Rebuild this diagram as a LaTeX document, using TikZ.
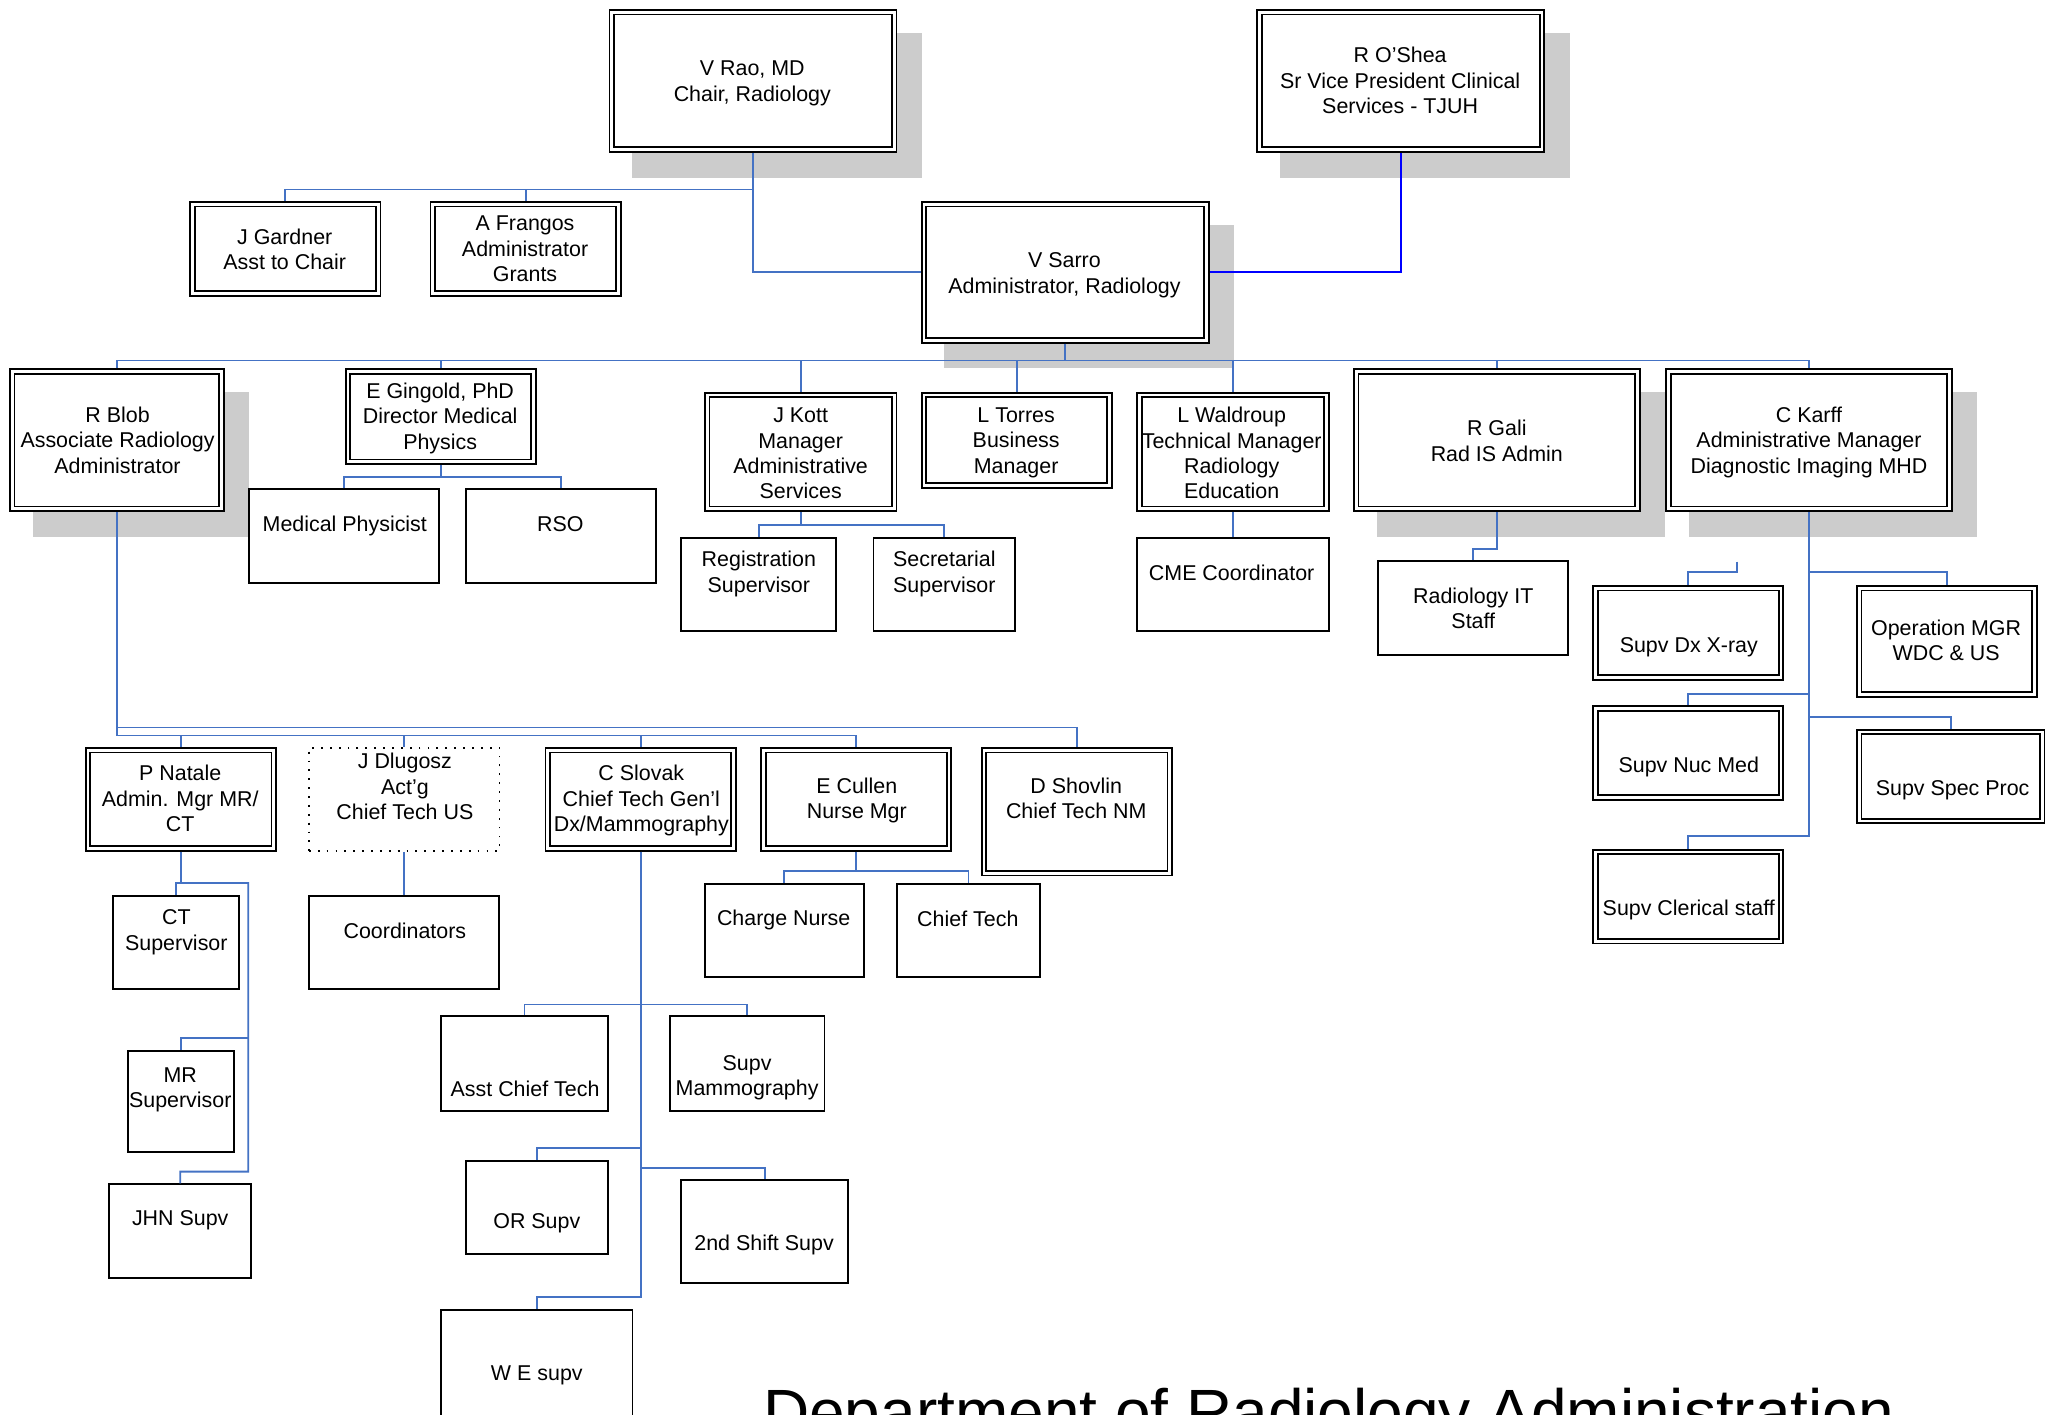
\documentclass[tikz,border=0pt]{standalone}
\usepackage{fontspec}
\setmainfont{Liberation Sans}
\usetikzlibrary{calc}
\definecolor{connblue}{HTML}{4472C4}
\definecolor{oblue}{HTML}{0000FF}
\definecolor{shadowgray}{HTML}{CCCCCC}
\newcommand{\ls}{\rule[-4.5pt]{0pt}{19.5pt}}
\newcommand{\mkdbl}[5]{\node[dblbox, minimum width={#4-#2-4.8}, minimum height={#5-#3-4.8}] (#1) at ({(#2+#4)/2},{(#3+#5)/2}) {};}
\newcommand{\mksgl}[5]{\node[sglbox, minimum width={#4-#2-1.5}, minimum height={#5-#3-1.5}] (#1) at ({(#2+#4)/2},{(#3+#5)/2}) {};}
\newcommand{\mkshd}[4]{\fill[shadowgray] ({#1+18},{#2+18}) rectangle ({#3+19},{#4+19});}
\begin{document}
\begin{tikzpicture}[x=1pt,y=-1pt,
  dblbox/.style={draw=black, fill=white, line width=1.4pt, double=white, double distance=2.1pt, outer sep=2.45pt, inner sep=0pt},
  sglbox/.style={draw=black, fill=white, line width=1.5pt, inner sep=0pt},
  dotbox/.style={draw=black, fill=white, line width=1.3pt, dash pattern=on 1.4pt off 5.4pt, inner sep=0pt},
  txt/.style={font=\fontsize{16.4}{19.5}\selectfont, align=center, inner sep=0pt, yshift=-1pt},
  conn/.style={draw=connblue, line width=1.4pt},
  oconn/.style={draw=oblue, line width=1.6pt}]
\useasboundingbox (0,0) rectangle (1568,1083);
\clip (0,0) rectangle (1568,1083);
\fill[white] (0,0) rectangle (1568,1083);
% shadows
\mkshd{466}{7}{687}{117}
\mkshd{962}{7}{1183}{117}
\mkshd{705}{154}{926}{263}
\mkshd{7}{282}{172}{392}
\mkshd{1036}{282}{1256}{392}
\mkshd{1275}{282}{1495}{392}
% boxes
\mkdbl{rao}{466}{7}{687}{117}
\mkdbl{oshea}{962}{7}{1183}{117}
\mkdbl{gardner}{145}{154}{292}{227}
\mkdbl{frangos}{329}{154}{476}{227}
\mkdbl{sarro}{705}{154}{926}{263}
\mkdbl{blob}{7}{282}{172}{392}
\mkdbl{gingold}{264}{282}{411}{356}
\mkdbl{kott}{539}{300}{687}{392}
\mkdbl{torres}{705}{300}{852}{374}
\mkdbl{waldroup}{870}{300}{1018}{392}
\mkdbl{gali}{1036}{282}{1256}{392}
\mkdbl{karff}{1275}{282}{1495}{392}
\mksgl{medphys}{190}{374}{337}{447}
\mksgl{rso}{356}{374}{503}{447}
\mksgl{regsup}{521}{411}{641}{484}
\mksgl{secsup}{668}{411}{778}{484}
\mksgl{cme}{870}{411}{1018}{484}
\mksgl{radit}{1054}{429}{1201}{502}
\mkdbl{dxray}{1219}{448}{1366}{521}
\mkdbl{opmgr}{1421}{448}{1560}{534}
\mkdbl{nucmed}{1219}{540}{1366}{613}
\mkdbl{specproc}{1421}{558}{1566}{631}
\mkdbl{clerical}{1219}{650}{1366}{723}
\mkdbl{natale}{65}{572}{212}{652}
\node[dotbox, minimum width=146, minimum height=79] (dlugosz) at (309.5,612) {};
\mkdbl{slovak}{417}{572}{564}{652}
\mkdbl{cullen}{582}{572}{729}{652}
\mkdbl{shovlin}{751}{572}{898}{671}
\mksgl{ctsup}{86}{685}{184}{758}
\mksgl{mrsup}{97}{804}{180}{883}
\mksgl{jhn}{83}{906}{193}{979}
\mksgl{coord}{236}{685}{383}{758}
\mksgl{asst}{337}{777}{466}{851}
\mksgl{supmam}{512}{777}{632}{851}
\mksgl{orsupv}{356}{888}{466}{961}
\mksgl{shift2}{521}{903}{650}{983}
\mksgl{wesupv}{337}{1002}{485}{1100}
\mksgl{charge}{539}{676}{662}{749}
\mksgl{chieftech}{686}{676}{797}{749}
% connectors
\draw[conn] (rao.south) -- ++(0,28) -| (gardner.north);
\draw[conn] (rao.south) ++(0,28) -| (frangos.north);
\draw[conn] (rao.south) |- (sarro.west);
\draw[oconn] (oshea.south) |- (sarro.east);
\draw[conn] (sarro.south) -- ++(0,13) coordinate (bar1);
\draw[conn] (blob.north) |- (bar1) -| (karff.north);
\foreach \n in {gingold,kott,torres,waldroup,gali}
  \draw[conn] (\n.north |- bar1) -- (\n.north);
\draw[conn] (gingold.south) -- ++(0,9) coordinate (g1);
\draw[conn] (medphys.north) |- (g1) -| (rso.north);
\draw[conn] (kott.south) -- ++(0,10) coordinate (k1);
\draw[conn] (regsup.north) |- (k1) -| (secsup.north);
\draw[conn] (waldroup.south) -- (cme.north);
\draw[conn] (gali.south) -- ++(0,28) -| (radit.north);
\draw[conn] (karff.south) -- ++(0,248) -| (clerical.north);
\draw[conn] (karff.south) ++(0,46) -| (opmgr.north);
\draw[conn] (karff.south) ++(0,139) -| (nucmed.north);
\draw[conn] (karff.south) ++(0,157) -| (specproc.north);
\coordinate (dxs) at (1330,430);
\draw[conn] (dxs) -- ++(0,8) -| (dxray.north);
\draw[conn] (blob.south) -- ++(0,171) coordinate (bar2) -| (cullen.north);
\foreach \n in {natale,dlugosz,slovak}
  \draw[conn] (\n.north |- bar2) -- (\n.north);
\coordinate (bar3) at (89.5,557);
\draw[conn] (bar3) -| (shovlin.north);
\draw[conn] (natale.south) -- ++(0,24) coordinate (n1) -| (ctsup.north);
\coordinate (n2) at (190,676);
\coordinate (n3) at (190,897);
\coordinate (n4) at (190,795);
\draw[conn] (n1) -- (n2) -- (n3) -| (jhn.north);
\draw[conn] (n4) -| (mrsup.north);
\draw[conn] (dlugosz.south) -- (coord.north);
\draw[conn] (slovak.south) -- ++(0,341) -| (wesupv.north);
\draw[conn] (slovak.south) -- ++(0,117) coordinate (s1);
\draw[conn] (asst.north) |- (s1) -| (supmam.north);
\draw[conn] (slovak.south) ++(0,227) -| (orsupv.north);
\draw[conn] (slovak.south) ++(0,242) -| (shift2.north);
\draw[conn] (cullen.south) -- ++(0,15) coordinate (c1);
\draw[conn] (charge.north) |- (c1) -| (chieftech.north);
% texts
\node[txt] (rao-t) at (576,61.5) {\ls V Rao, MD\\\ls Chair, Radiology};
\node[txt] (oshea-t) at (1072,61.3) {\ls R O’Shea\\\ls Sr Vice President Clinical\\\ls Services - TJUH};
\node[txt] (gardner-t) at (218,190.5) {\ls J Gardner\\\ls Asst to Chair};
\node[txt] (frangos-t) at (402,190) {\ls A Frangos\\\ls Administrator\\\ls Grants};
\node[txt] (sarro-t) at (815,208.5) {\ls V Sarro\\\ls Administrator, Radiology};
\node[txt] (blob-t) at (90,336.7) {\ls R Blob\\\ls Associate Radiology\\\ls Administrator};
\node[txt] (gingold-t) at (337,318.3) {\ls E Gingold, PhD\\\ls Director Medical\\\ls Physics};
\node[txt] (kott-t) at (613,346.5) {\ls J Kott\\\ls Manager\\\ls Administrative\\\ls Services};
\node[txt] (torres-t) at (778,336.7) {\ls L Torres\\\ls Business\\\ls Manager};
\node[txt] (waldroup-t) at (943,346.5) {\ls L Waldroup\\\ls Technical Manager\\\ls Radiology\\\ls Education};
\node[txt] (gali-t) at (1146,337) {\ls R Gali\\\ls Rad IS Admin};
\node[txt] (karff-t) at (1385,336.7) {\ls C Karff\\\ls Administrative Manager\\\ls Diagnostic Imaging MHD};
\node[txt] (medphys-t) at (264,401) {\ls Medical Physicist};
\node[txt] (rso-t) at (429,401) {\ls RSO};
\node[txt] (regsup-t) at (581,437.5) {\ls Registration\\\ls Supervisor};
\node[txt] (secsup-t) at (723,437.5) {\ls Secretarial\\\ls Supervisor};
\node[txt] (cme-t) at (943,438) {\ls CME Coordinator};
\node[txt] (radit-t) at (1128,465.5) {\ls Radiology IT\\\ls Staff};
\node[txt] (dxray-t) at (1293,493) {\ls Supv Dx X-ray};
\node[txt] (opmgr-t) at (1490,490) {\ls Operation MGR\\\ls WDC \& US};
\node[txt] (nucmed-t) at (1293,585) {\ls Supv Nuc Med};
\node[txt] (specproc-t) at (1495,603) {\ls Supv Spec Proc};
\node[txt] (clerical-t) at (1293,695) {\ls Supv Clerical staff};
\node[txt] (natale-t) at (138,611) {\ls P Natale\\\ls Admin. Mgr MR/\\\ls CT};
\node[txt] (dlugosz-t) at (310,601.7) {\ls J Dlugosz\\\ls Act’g\\\ls Chief Tech US};
\node[txt] (slovak-t) at (491,611) {\ls C Slovak\\\ls Chief Tech Gen’l\\\ls Dx/Mammography};
\node[txt] (cullen-t) at (656,611) {\ls E Cullen\\\ls Nurse Mgr};
\node[txt] (shovlin-t) at (824,611) {\ls D Shovlin\\\ls Chief Tech NM};
\node[txt] (ctsup-t) at (135,711.5) {\ls CT\\\ls Supervisor};
\node[txt] (mrsup-t) at (138,832) {\ls MR\\\ls Supervisor};
\node[txt] (jhn-t) at (138,932) {\ls JHN Supv};
\node[txt] (coord-t) at (310,712) {\ls Coordinators};
\node[txt] (asst-t) at (402,833) {\ls Asst Chief Tech};
\node[txt] (supmam-t) at (572,823) {\ls Supv\\\ls Mammography};
\node[txt] (orsupv-t) at (411,934) {\ls OR Supv};
\node[txt] (shift2-t) at (585,951) {\ls 2nd Shift Supv};
\node[txt] (wesupv-t) at (411,1051) {\ls W E supv};
\node[txt] (charge-t) at (600,702) {\ls Charge Nurse};
\node[txt] (chieftech-t) at (741,703) {\ls Chief Tech};
\node[font=\fontsize{49}{58}\selectfont, anchor=base west, inner sep=0pt] (title) at (584,1098) {Department of Radiology Administration};
\end{tikzpicture}
\end{document}
